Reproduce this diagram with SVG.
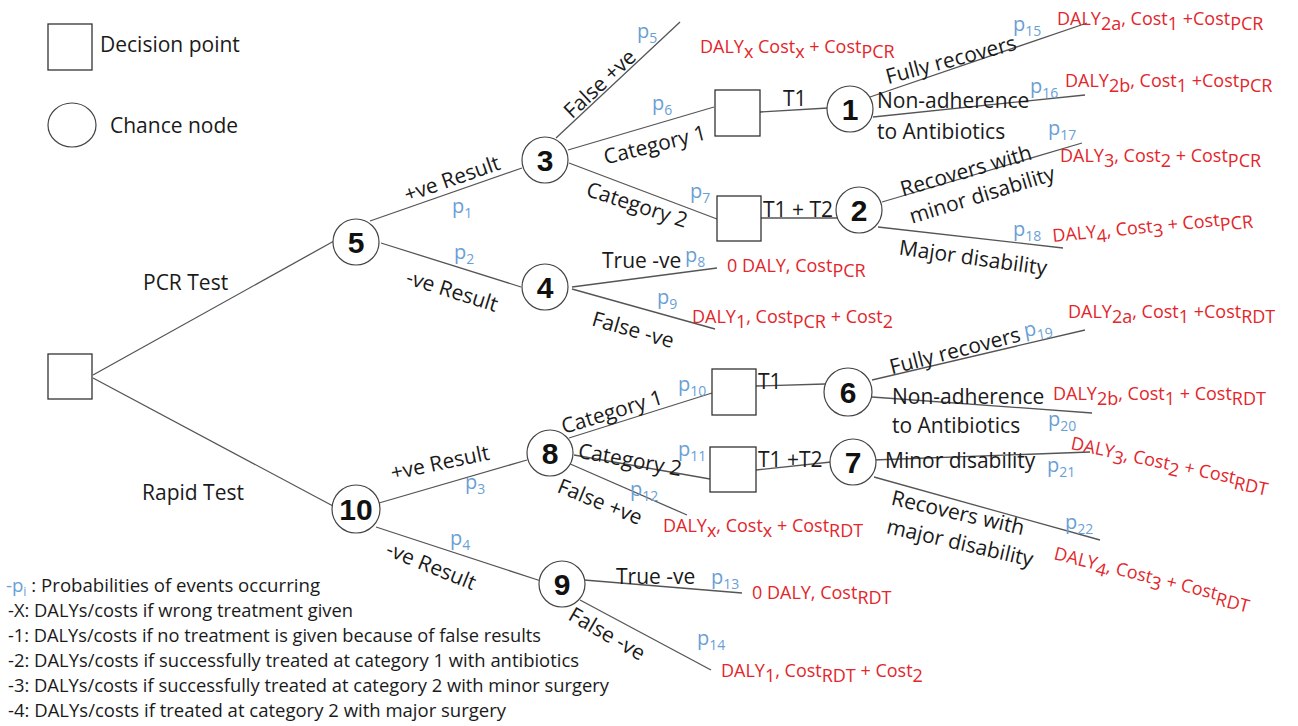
<svg xmlns="http://www.w3.org/2000/svg" width="1298" height="726" viewBox="0 0 1298 726">
<style>
  .bg{fill:#fff}
  .edge{stroke:#555;stroke-width:1.3;fill:none}
  .box{fill:#fff;stroke:#333;stroke-width:1.3}
  .circ{fill:#fff;stroke:#444;stroke-width:1.2}
  .num{font-family:"Liberation Sans",Arial,sans-serif;font-weight:bold;font-size:30px;fill:#111;text-anchor:middle}
  .lbl{font-family:"Open Sans",sans-serif;font-size:21px;fill:#1a1a1a}
  .mid{text-anchor:middle}
  .red{font-family:"Open Sans",sans-serif;font-size:18px;fill:#e3262b}
  .p{font-family:"Open Sans",sans-serif;font-size:20px;fill:#6a9fd6}
  .ps{font-size:14px}
  .leg{font-family:"Open Sans",sans-serif;font-size:18px;fill:#1a1a1a}
</style>
<rect class="bg" x="0" y="0" width="1298" height="726"/>

<g id="legend">
  <rect class="box" x="48" y="24" width="44" height="46"/>
  <text class="lbl" x="100" y="52">Decision point</text>
  <ellipse class="circ" cx="72" cy="125" rx="24" ry="22"/>
  <text class="lbl" x="110" y="133">Chance node</text>
</g>

<g id="connectors">
  <path class="edge" d="M93,375 L334,241"/>
  <path class="edge" d="M93,378 L333,506"/>
  <path class="edge" d="M370,221 L522,168"/>
  <path class="edge" d="M381,243 L521,287"/>
  <path class="edge" d="M556,138 L680,22"/>
  <path class="edge" d="M568,150 L714,107"/>
  <path class="edge" d="M569,163 L717,219"/>
  <path class="edge" d="M760,112 L828,108"/>
  <path class="edge" d="M761,218 L838,218"/>
  <path class="edge" d="M870,97 L1087,23"/>
  <path class="edge" d="M873,117 L1085,95"/>
  <path class="edge" d="M882,202 L1082,143"/>
  <path class="edge" d="M878,227 L1063,248"/>
  <path class="edge" d="M572,287 L717,268"/>
  <path class="edge" d="M572,289 L715,329"/>
  <path class="edge" d="M379,503 L527,460"/>
  <path class="edge" d="M376,527 L541,581"/>
  <path class="edge" d="M569,438 L712,393"/>
  <path class="edge" d="M574,455 L710,479"/>
  <path class="edge" d="M568,463 L687,515"/>
  <path class="edge" d="M756,386 L825,384"/>
  <path class="edge" d="M756,470 L831,462"/>
  <path class="edge" d="M872,380 L1085,330"/>
  <path class="edge" d="M872,397 L1092,413"/>
  <path class="edge" d="M873,460 L1090,452"/>
  <path class="edge" d="M874,477 L1100,540"/>
  <path class="edge" d="M584,580 L742,593"/>
  <path class="edge" d="M580,600 L711,670"/>
</g>

<g id="root"><rect class="box" x="48" y="354" width="44" height="45"/></g>
<g id="d1"><rect class="box" x="715" y="90" width="45" height="46"/></g>
<g id="d2"><rect class="box" x="717" y="196" width="44" height="45"/></g>
<g id="d3"><rect class="box" x="712" y="369" width="44" height="46"/></g>
<g id="d4"><rect class="box" x="710" y="447" width="46" height="45"/></g>

<g id="n5"><circle class="circ" cx="356" cy="242" r="23"/><text class="num" x="356" y="253">5</text></g>
<g id="n10"><circle class="circ" cx="356" cy="509" r="24"/><text class="num" x="356" y="520">10</text></g>
<g id="n3"><circle class="circ" cx="545" cy="160" r="23"/><text class="num" x="545" y="171">3</text></g>
<g id="n4"><circle class="circ" cx="545" cy="287" r="23"/><text class="num" x="545" y="298">4</text></g>
<g id="n1"><circle class="circ" cx="850" cy="109" r="23"/><text class="num" x="850" y="120">1</text></g>
<g id="n2"><circle class="circ" cx="859" cy="210" r="23"/><text class="num" x="859" y="221">2</text></g>
<g id="n8"><circle class="circ" cx="550" cy="453" r="23"/><text class="num" x="550" y="464">8</text></g>
<g id="n9"><circle class="circ" cx="562" cy="584" r="23"/><text class="num" x="562" y="595">9</text></g>
<g id="n6"><circle class="circ" cx="848" cy="392" r="24"/><text class="num" x="848" y="403">6</text></g>
<g id="n7"><circle class="circ" cx="853" cy="462" r="23"/><text class="num" x="853" y="473">7</text></g>

<g id="labels">
  <text class="lbl" x="143" y="290">PCR Test</text>
  <text class="lbl" x="142" y="500">Rapid Test</text>

  <text class="lbl mid" transform="translate(452 179) rotate(-19.5)" y="7">+ve Result</text>
  <text class="p" x="452" y="213">p<tspan class="ps" dy="5">1</tspan></text>
  <text class="lbl mid" transform="translate(452 291) rotate(17.5)" y="7">-ve Result</text>
  <text class="p" x="454" y="259">p<tspan class="ps" dy="5">2</tspan></text>

  <text class="lbl mid" transform="translate(600 84) rotate(-43)" y="7">False +ve</text>
  <text class="p" x="637" y="38">p<tspan class="ps" dy="5">5</tspan></text>
  <text class="red" x="700" y="53">DALY<tspan dy="5">x</tspan><tspan dy="-5"> Cost</tspan><tspan dy="5">x</tspan><tspan dy="-5"> + Cost</tspan><tspan dy="5">PCR</tspan></text>

  <text class="lbl mid" transform="translate(655 145) rotate(-14)" y="7">Category 1</text>
  <text class="p" x="652" y="110">p<tspan class="ps" dy="5">6</tspan></text>
  <text class="lbl mid" transform="translate(637 205) rotate(18)" y="7">Category 2</text>
  <text class="p" x="690" y="198">p<tspan class="ps" dy="5">7</tspan></text>

  <text class="lbl" x="783" y="106">T1</text>
  <text class="lbl" x="763" y="217">T1 + T2</text>

  <text class="lbl mid" transform="translate(951 60) rotate(-15)" y="7">Fully recovers</text>
  <text class="p" x="1013" y="31">p<tspan class="ps" dy="5">15</tspan></text>
  <text class="red" x="1057" y="25">DALY<tspan dy="5">2a</tspan><tspan dy="-5">, Cost</tspan><tspan dy="5">1</tspan><tspan dy="-5"> +Cost</tspan><tspan dy="5">PCR</tspan></text>

  <text class="lbl" x="877" y="108">Non-adherence</text>
  <text class="lbl" x="877" y="139">to Antibiotics</text>
  <text class="p" x="1030" y="93">p<tspan class="ps" dy="5">16</tspan></text>
  <text class="red" x="1065" y="87">DALY<tspan dy="5">2b</tspan><tspan dy="-5">, Cost</tspan><tspan dy="5">1</tspan><tspan dy="-5"> +Cost</tspan><tspan dy="5">PCR</tspan></text>

  <text class="lbl mid" transform="translate(966 171) rotate(-16)" y="7">Recovers with</text>
  <text class="lbl mid" transform="translate(982 195) rotate(-17)" y="7">minor disability</text>
  <text class="p" x="1048" y="135">p<tspan class="ps" dy="5">17</tspan></text>
  <text class="red" x="1060" y="162">DALY<tspan dy="5">3</tspan><tspan dy="-5">, Cost</tspan><tspan dy="5">2</tspan><tspan dy="-5"> +  Cost</tspan><tspan dy="5">PCR</tspan></text>

  <text class="lbl mid" transform="translate(973 258) rotate(8)" y="7">Major disability</text>
  <text class="p" x="1013" y="236">p<tspan class="ps" dy="5">18</tspan></text>
  <text class="red" transform="translate(1053 242) rotate(-5.5)">DALY<tspan dy="5">4</tspan><tspan dy="-5">, Cost</tspan><tspan dy="5">3</tspan><tspan dy="-5"> + Cost</tspan><tspan dy="5">PCR</tspan></text>

  <text class="lbl" x="602" y="268">True -ve</text>
  <text class="p" x="685" y="262">p<tspan class="ps" dy="5">8</tspan></text>
  <text class="red" x="727" y="272">0 DALY, Cost<tspan dy="5">PCR</tspan></text>
  <text class="lbl mid" transform="translate(633 330) rotate(16)" y="7">False -ve</text>
  <text class="p" x="657" y="304">p<tspan class="ps" dy="5">9</tspan></text>
  <text class="red" x="692" y="323">DALY<tspan dy="5">1</tspan><tspan dy="-5">, Cost</tspan><tspan dy="5">PCR</tspan><tspan dy="-5"> + Cost</tspan><tspan dy="5">2</tspan></text>

  <text class="lbl mid" transform="translate(440 463) rotate(-12)" y="7">+ve Result</text>
  <text class="p" x="465" y="489">p<tspan class="ps" dy="5">3</tspan></text>
  <text class="lbl mid" transform="translate(431 566) rotate(22)" y="7">-ve Result</text>
  <text class="p" x="450" y="545">p<tspan class="ps" dy="5">4</tspan></text>

  <text class="lbl mid" transform="translate(612 412) rotate(-17)" y="7">Category 1</text>
  <text class="p" x="678" y="391">p<tspan class="ps" dy="5">10</tspan></text>
  <text class="lbl mid" transform="translate(630 460) rotate(10)" y="7">Category 2</text>
  <text class="p" x="678" y="456">p<tspan class="ps" dy="5">11</tspan></text>
  <text class="lbl mid" transform="translate(600 502) rotate(22)" y="7">False +ve</text>
  <text class="p" x="630" y="496">p<tspan class="ps" dy="5">12</tspan></text>
  <text class="red" x="663" y="532">DALY<tspan dy="5">x</tspan><tspan dy="-5">, Cost</tspan><tspan dy="5">x</tspan><tspan dy="-5"> + Cost</tspan><tspan dy="5">RDT</tspan></text>

  <text class="lbl" x="758" y="389">T1</text>
  <text class="lbl" x="758" y="467">T1 +T2</text>

  <text class="lbl mid" transform="translate(955 351) rotate(-14.5)" y="7">Fully recovers</text>
  <text class="p" transform="translate(1025 337) rotate(-10)">p<tspan class="ps" dy="5">19</tspan></text>
  <text class="red" x="1068" y="318">DALY<tspan dy="5">2a</tspan><tspan dy="-5">, Cost</tspan><tspan dy="5">1</tspan><tspan dy="-5"> +Cost</tspan><tspan dy="5">RDT</tspan></text>

  <text class="lbl" x="892" y="404">Non-adherence</text>
  <text class="lbl" x="892" y="433">to Antibiotics</text>
  <text class="p" x="1048" y="426">p<tspan class="ps" dy="5">20</tspan></text>
  <text class="red" x="1053" y="400">DALY<tspan dy="5">2b</tspan><tspan dy="-5">, Cost</tspan><tspan dy="5">1</tspan><tspan dy="-5"> + Cost</tspan><tspan dy="5">RDT</tspan></text>

  <text class="lbl" x="885" y="468">Minor disability</text>
  <text class="p" x="1047" y="472">p<tspan class="ps" dy="5">21</tspan></text>
  <text class="red" transform="translate(1070 449) rotate(12)">DALY<tspan dy="5">3</tspan><tspan dy="-5">, Cost</tspan><tspan dy="5">2</tspan><tspan dy="-5"> +  Cost</tspan><tspan dy="5">RDT</tspan></text>

  <text class="lbl mid" transform="translate(958 513) rotate(13)" y="7">Recovers with</text>
  <text class="lbl mid" transform="translate(960 543) rotate(13)" y="7">major disability</text>
  <text class="p" x="1065" y="529">p<tspan class="ps" dy="5">22</tspan></text>
  <text class="red" transform="translate(1053 559) rotate(14)">DALY<tspan dy="5">4</tspan><tspan dy="-5">, Cost</tspan><tspan dy="5">3</tspan><tspan dy="-5"> + Cost</tspan><tspan dy="5">RDT</tspan></text>

  <text class="lbl" x="616" y="584">True  -ve</text>
  <text class="p" x="711" y="584">p<tspan class="ps" dy="5">13</tspan></text>
  <text class="red" x="752" y="599">0 DALY, Cost<tspan dy="5">RDT</tspan></text>
  <text class="lbl mid" transform="translate(607 634) rotate(30)" y="7">False -ve</text>
  <text class="p" x="697" y="645">p<tspan class="ps" dy="5">14</tspan></text>
  <text class="red" x="721" y="677">DALY<tspan dy="5">1</tspan><tspan dy="-5">, Cost</tspan><tspan dy="5">RDT</tspan><tspan dy="-5"> + Cost</tspan><tspan dy="5">2</tspan></text>
</g>

<g id="key">
  <text class="leg" x="6" y="592" textLength="314" lengthAdjust="spacingAndGlyphs"><tspan fill="#6a9fd6">-p</tspan><tspan fill="#6a9fd6" font-size="12" dy="4">i</tspan><tspan dy="-4"> : Probabilities of events occurring</tspan></text>
  <text class="leg" x="8" y="617" textLength="345" lengthAdjust="spacingAndGlyphs">-X: DALYs/costs if wrong treatment given</text>
  <text class="leg" x="8" y="642" textLength="533" lengthAdjust="spacingAndGlyphs">-1: DALYs/costs if no treatment is given because of false results</text>
  <text class="leg" x="8" y="667" textLength="571" lengthAdjust="spacingAndGlyphs">-2: DALYs/costs if successfully treated at category 1 with antibiotics</text>
  <text class="leg" x="8" y="692" textLength="601" lengthAdjust="spacingAndGlyphs">-3: DALYs/costs if successfully treated at category 2 with minor surgery</text>
  <text class="leg" x="8" y="717" textLength="498" lengthAdjust="spacingAndGlyphs">-4: DALYs/costs if treated at  category 2 with major surgery</text>
</g>
</svg>
